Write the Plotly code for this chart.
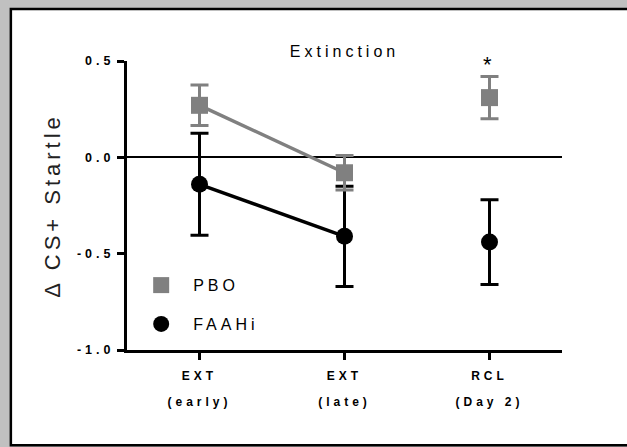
import plotly.graph_objects as go

categories = ["EXT (early)", "EXT (late)", "RCL (Day 2)"]
tick_line1 = ["EXT", "EXT", "RCL"]
tick_line2 = ["(early)", "(late)", "(Day 2)"]
x_pos = [0, 1, 2]
pbo_mean = [0.27, -0.08, 0.31]
pbo_err = [0.105, 0.09, 0.11]
faah_mean = [-0.14, -0.41, -0.44]
faah_err = [0.265, 0.26, 0.22]
connected = 2  # number of points joined by the line (extinction phase)
y_ticks = [0.5, 0.0, -0.5, -1.0]
y_tick_text = ["0.5", "0.0", "-0.5", "-1.0"]

FONT = "Arial, Liberation Sans, sans-serif"
GRAY = "#808080"

tick_labels = ["<span style='font-size:12px'>%s</span><br><span style='font-size:12px'>%s</span>" % (a, b)
               for a, b in zip(tick_line1, tick_line2)]

fig = go.Figure()

fig.add_trace(go.Scatter(x=x_pos[:connected], y=pbo_mean[:connected], mode="lines",
                         line=dict(color=GRAY, width=3.5), showlegend=False, hoverinfo="skip"))
fig.add_trace(go.Scatter(x=x_pos[:connected], y=faah_mean[:connected], mode="lines",
                         line=dict(color="black", width=3.5), showlegend=False, hoverinfo="skip"))

fig.add_trace(go.Scatter(x=x_pos, y=faah_mean, mode="markers", name="FAAHi",
                         marker=dict(symbol="circle", size=17, color="black"),
                         error_y=dict(type="data", array=faah_err, visible=True,
                                      color="black", thickness=3, width=9),
                         legendgroup="b", legendrank=2))
fig.add_trace(go.Scatter(x=x_pos, y=pbo_mean, mode="markers", name="PBO",
                         marker=dict(symbol="square", size=17, color=GRAY),
                         error_y=dict(type="data", array=pbo_err, visible=True,
                                      color=GRAY, thickness=3, width=9),
                         legendgroup="a", legendrank=1))

fig.add_shape(type="rect", xref="paper", yref="paper", x0=-0.267, x1=1.2, y0=-0.33, y1=1.18,
              fillcolor="white", line=dict(color="black", width=2.5), layer="below")

fig.add_annotation(x=x_pos[2], y=pbo_mean[2] + pbo_err[2], text="*", showarrow=False,
                   yanchor="bottom", yshift=-3, font=dict(family=FONT, size=22, color="black"))

fig.update_layout(
    width=627, height=447,
    margin=dict(l=127, r=65, t=61, b=97),
    paper_bgcolor="#c0c0c0", plot_bgcolor="rgba(0,0,0,0)",
    title=dict(text="Extinction", x=0.5, xref="paper", y=(447 - 51) / 447, yref="container",
               xanchor="center", yanchor="middle",
               font=dict(family=FONT, size=16, color="black")),
    showlegend=True,
    legend=dict(x=0.005, y=0.283, xanchor="left", yanchor="top", bgcolor="rgba(0,0,0,0)",
                font=dict(family=FONT, size=16, color="black"), tracegroupgap=15,
                itemsizing="trace", itemwidth=54),
    xaxis=dict(range=[-0.5, 2.5], tickvals=x_pos, ticktext=tick_labels,
               showline=True, linecolor="black", linewidth=3, ticks="outside", ticklen=7,
               tickwidth=3, tickcolor="black", showgrid=False, zeroline=False,
               ticklabelstandoff=-4,
               tickfont=dict(family=FONT, size=20, color="black", weight="bold")),
    yaxis=dict(range=[-1.0, 0.5], tickvals=y_ticks, ticktext=y_tick_text,
               showline=True, linecolor="black", linewidth=3, ticks="outside", ticklen=7,
               tickwidth=3, tickcolor="black", showgrid=False,
               zeroline=True, zerolinecolor="black", zerolinewidth=2,
               tickfont=dict(family=FONT, size=12.5, color="black", weight="bold"),
               title=dict(text="\u0394 CS+ Startle", standoff=27,
                          font=dict(family=FONT, size=22, color="#222222"))),
)

post = """
document.body.style.margin = '0';
document.querySelectorAll('.main-svg text').forEach(function(t){
  t.style.letterSpacing = '4px';
});
document.querySelectorAll('.legend .scrollbox, .legend').forEach(function(e){
  e.removeAttribute('clip-path');
});
"""
fig.write_html("out.html", post_script=post, config={"displayModeBar": False})
